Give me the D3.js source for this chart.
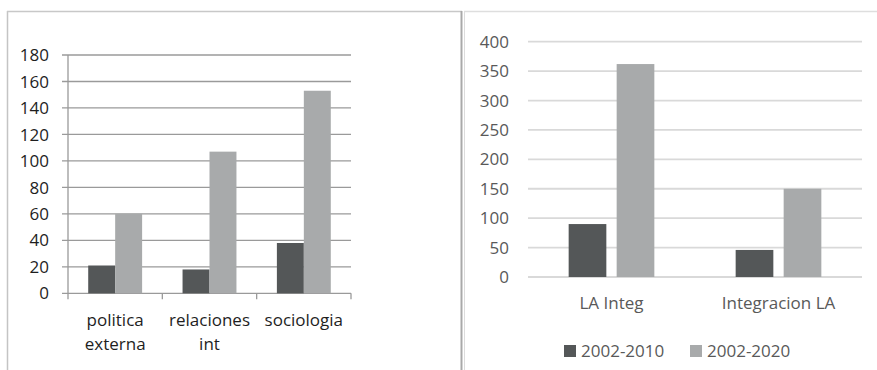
<!DOCTYPE html>
<html>
<head>
<meta charset="utf-8">
<script src="https://cdn.jsdelivr.net/npm/d3@7"></script>
<style>
  html, body { margin: 0; padding: 0; background: #fff; }
  svg { display: block; font-family: "Open Sans", sans-serif; }
</style>
</head>
<body>
<svg id="chart" width="877" height="370"></svg>
<script>
// Left panel: counts per discipline
const leftCategories = [["politica", "externa"], ["relaciones", "int"], ["sociologia"]];
const leftSeries = ["2002-2010", "2002-2020"];
const leftEarly = [21, 18, 38];
const leftLate = [60, 107, 153];
const leftTicks = [0, 20, 40, 60, 80, 100, 120, 140, 160, 180];

// Right panel: counts per search term
const rightCategories = ["LA Integ", "Integracion LA"];
const rightSeries = ["2002-2010", "2002-2020"];
const rightEarly = [90, 46];
const rightLate = [362, 150];
const rightTicks = [0, 50, 100, 150, 200, 250, 300, 350, 400];

const seriesColor = { "2002-2010": "#545758", "2002-2020": "#a8aaab" };

const svg = d3.select("#chart");

// Panel frames
svg.append("line").attr("x1", 7.5).attr("x2", 7.5).attr("y1", 11).attr("y2", 370)
  .attr("stroke", "#c4c4c4").attr("stroke-width", 1.5);
svg.append("line").attr("x1", 7).attr("x2", 462).attr("y1", 11.5).attr("y2", 11.5)
  .attr("stroke", "#c8c8c8").attr("stroke-width", 1.5);
svg.append("line").attr("x1", 461.5).attr("x2", 461.5).attr("y1", 11).attr("y2", 370)
  .attr("stroke", "#a9a9a9").attr("stroke-width", 2);
svg.append("line").attr("x1", 464.5).attr("x2", 464.5).attr("y1", 11).attr("y2", 370)
  .attr("stroke", "#dcdcdc").attr("stroke-width", 1);
svg.append("line").attr("x1", 464).attr("x2", 877).attr("y1", 11.5).attr("y2", 11.5)
  .attr("stroke", "#dedede").attr("stroke-width", 1.5);

// ---------- Left chart ----------
{
  const left = 68, right = 351, top = 55, bottom = 293.3;
  const idx = leftCategories.map((d, i) => i);
  const x0 = d3.scaleBand().domain(idx).range([left, right]).padding(0);
  const x1 = d3.scaleBand().domain(leftSeries).range([0, x0.bandwidth()])
    .paddingInner(0).paddingOuter(0.75);
  const y = d3.scaleLinear().domain([0, 180]).range([bottom, top]);
  const g = svg.append("g");

  // horizontal gridlines
  g.selectAll("line.grid").data(leftTicks).join("line")
    .attr("x1", left - 6).attr("x2", right)
    .attr("y1", d => y(d)).attr("y2", d => y(d))
    .attr("stroke", "#9a9a9a").attr("stroke-width", 1.3);

  // y axis line and category tick marks
  g.append("line").attr("x1", left).attr("x2", left).attr("y1", top).attr("y2", bottom + 6)
    .attr("stroke", "#9a9a9a").attr("stroke-width", 1.3);
  g.selectAll("line.xt").data(idx).join("line")
    .attr("x1", d => x0(d) + x0.bandwidth()).attr("x2", d => x0(d) + x0.bandwidth())
    .attr("y1", bottom).attr("y2", bottom + 6)
    .attr("stroke", "#9a9a9a").attr("stroke-width", 1.3);

  // bars
  const values = { "2002-2010": leftEarly, "2002-2020": leftLate };
  leftSeries.forEach(s => {
    g.selectAll(null).data(values[s]).join("rect")
      .attr("x", (d, i) => x0(i) + x1(s))
      .attr("width", x1.bandwidth())
      .attr("y", d => y(d))
      .attr("height", d => y(0) - y(d))
      .attr("fill", seriesColor[s]);
  });

  // y tick labels
  g.selectAll("text.yt").data(leftTicks).join("text")
    .attr("x", left - 19).attr("y", d => y(d)).attr("dy", "0.36em")
    .attr("text-anchor", "end").attr("font-size", 17).attr("fill", "#1e1e1e")
    .text(d => d);

  // category labels
  g.selectAll("text.cat").data(leftCategories).join("text")
    .attr("text-anchor", "middle").attr("font-size", 17).attr("fill", "#1e1e1e")
    .each(function (lines, i) {
      const t = d3.select(this);
      lines.forEach((ln, k) => {
        t.append("tspan").attr("x", x0(i) + x0.bandwidth() / 2)
          .attr("y", 326 + k * 24).text(ln);
      });
    });
}

// ---------- Right chart ----------
{
  const left = 528, right = 862, top = 41.7, bottom = 277;
  const x0 = d3.scaleBand().domain(rightCategories).range([left, right]).padding(0);
  const x1 = d3.scaleBand().domain(rightSeries).range([0, x0.bandwidth()])
    .paddingInner(0.215).paddingOuter(0.847);
  const y = d3.scaleLinear().domain([0, 400]).range([bottom, top]);
  const g = svg.append("g");

  g.selectAll("line.grid").data(rightTicks).join("line")
    .attr("x1", left).attr("x2", right)
    .attr("y1", d => y(d)).attr("y2", d => y(d))
    .attr("stroke", "#d9d9d9").attr("stroke-width", 1.8);

  const values = { "2002-2010": rightEarly, "2002-2020": rightLate };
  rightSeries.forEach(s => {
    g.selectAll(null).data(values[s]).join("rect")
      .attr("x", (d, i) => x0(rightCategories[i]) + x1(s))
      .attr("width", x1.bandwidth())
      .attr("y", d => y(d))
      .attr("height", d => y(0) - y(d))
      .attr("fill", seriesColor[s]);
  });

  g.selectAll("text.yt").data(rightTicks).join("text")
    .attr("x", 509).attr("y", d => y(d)).attr("dy", "0.36em")
    .attr("text-anchor", "end").attr("font-size", 17).attr("fill", "#595959")
    .text(d => d);

  g.selectAll("text.cat").data(rightCategories).join("text")
    .attr("x", d => x0(d) + x0.bandwidth() / 2).attr("y", 309)
    .attr("text-anchor", "middle").attr("font-size", 17).attr("fill", "#595959")
    .text(d => d);

  // legend
  const legendX = [564, 690];
  const lg = g.selectAll("g.legend").data(rightSeries).join("g")
    .attr("transform", (d, i) => `translate(${legendX[i]},345)`);
  lg.append("rect").attr("width", 12).attr("height", 12).attr("fill", d => seriesColor[d]);
  lg.append("text").attr("x", 17).attr("y", 12)
    .attr("font-size", 17).attr("fill", "#595959").text(d => d);
}
</script>
</body>
</html>
